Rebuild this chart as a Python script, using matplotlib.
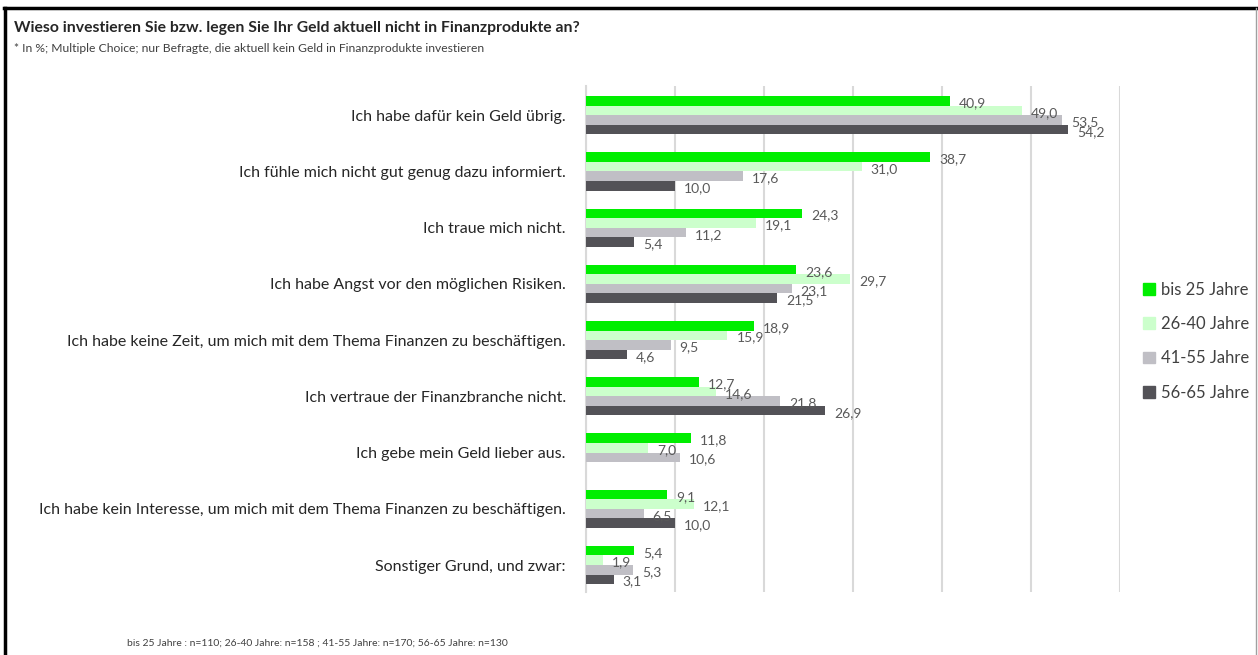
import numpy as np
import matplotlib.pyplot as plt
from matplotlib.patches import Patch
from matplotlib.lines import Line2D

plt.rcParams['font.family'] = ['Lato', 'DejaVu Sans']

categories = [
    'Ich habe dafür kein Geld übrig.',
    'Ich fühle mich nicht gut genug dazu informiert.',
    'Ich traue mich nicht.',
    'Ich habe Angst vor den möglichen Risiken.',
    'Ich habe keine Zeit, um mich mit dem Thema Finanzen zu beschäftigen.',
    'Ich vertraue der Finanzbranche nicht.',
    'Ich gebe mein Geld lieber aus.',
    'Ich habe kein Interesse, um mich mit dem Thema Finanzen zu beschäftigen.',
    'Sonstiger Grund, und zwar:',
]
series_names = ['bis 25 Jahre', '26-40 Jahre', '41-55 Jahre', '56-65 Jahre']
bis25 = [40.9, 38.7, 24.3, 23.6, 18.9, 12.7, 11.8, 9.1, 5.4]
j26_40 = [49.0, 31.0, 19.1, 29.7, 15.9, 14.6, 7.0, 12.1, 1.9]
j41_55 = [53.5, 17.6, 11.2, 23.1, 9.5, 21.8, 10.6, 6.5, 5.3]
j56_65 = [54.2, 10.0, 5.4, 21.5, 4.6, 26.9, np.nan, 10.0, 3.1]
colors = ['#00EE00', '#CCFFCC', '#C0BFC5', '#535257']

title = 'Wieso investieren Sie bzw. legen Sie Ihr Geld aktuell nicht in Finanzprodukte an?'
subtitle = '* In %; Multiple Choice; nur Befragte, die aktuell kein Geld in Finanzprodukte investieren'
footnote = 'bis 25 Jahre : n=110; 26-40 Jahre: n=158 ; 41-55 Jahre: n=170; 56-65 Jahre: n=130'

fig = plt.figure(figsize=(12.58, 6.55), dpi=100)
ax = fig.add_axes([0.4658, 0.0962, 0.4245, 0.7725])

y = np.arange(len(categories))
h = 0.17
all_series = [bis25, j26_40, j41_55, j56_65]
for k, vals in enumerate(all_series):
    pos = y + (k - 1.5) * h
    ax.barh(pos, vals, height=h, color=colors[k], zorder=3)
    for p, v in zip(pos, vals):
        if np.isnan(v):
            continue
        ax.text(v + 1.0, p + 0.04, f'{v:.1f}'.replace('.', ','), va='center', ha='left',
                fontsize=10, color='#595959', zorder=4)

ax.set_xlim(0, 60)
ax.set_ylim(8.48, -0.52)
ax.set_xticks(np.arange(0, 61, 10))
ax.xaxis.grid(True, color='#D9D9D9', linewidth=1.5, zorder=0)
ax.tick_params(axis='x', bottom=False, labelbottom=False)
ax.tick_params(axis='y', left=False, pad=11)
ax.set_yticks(y)
ax.set_yticklabels(categories, fontsize=11.5, color='#262626')
for s in ['top', 'right', 'bottom']:
    ax.spines[s].set_visible(False)
ax.spines['left'].set_color('#D9D9D9')
ax.spines['left'].set_linewidth(1.5)

handles = [Patch(color=c) for c in colors]
fig.legend(handles, series_names, loc='center left', bbox_to_anchor=(0.902, 0.479),
           frameon=False, fontsize=12, handlelength=0.7, handleheight=0.7,
           handletextpad=0.4, labelspacing=1.1, borderpad=0, labelcolor='#404040')

fig.text(0.011, 0.958, title, fontsize=11.3, fontweight='bold', color='#262626', va='center')
fig.text(0.011, 0.926, subtitle, fontsize=8.7, color='#404040', va='center')
fig.text(0.101, 0.018, footnote, fontsize=7.5, color='#404040', va='center')

# outer frame
fig.add_artist(Line2D([0.003, 0.999], [0.988, 0.988], color='black', linewidth=2.5))
fig.add_artist(Line2D([0.004, 0.004], [0.0, 0.988], color='black', linewidth=2.5))
fig.add_artist(Line2D([0.9985, 0.9985], [0.0, 0.988], color='#A0A0A0', linewidth=1))

fig.savefig('out.png', dpi=100)
